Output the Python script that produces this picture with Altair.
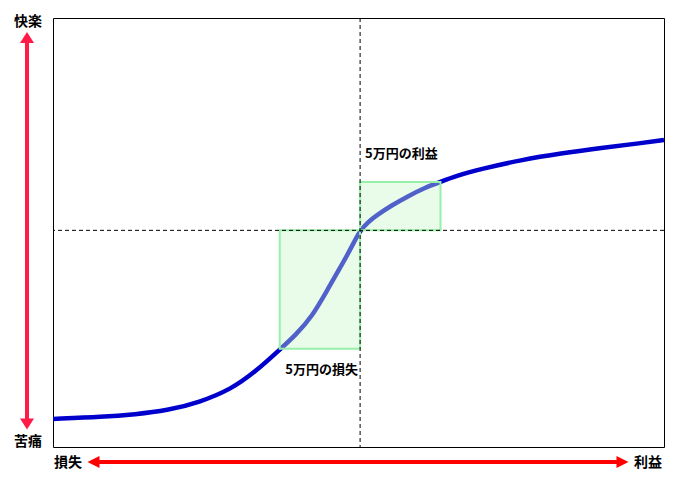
import altair as alt
import pandas as pd

# value function curve (x: 万円, y: 効用)
curve_x = [-19.1, -16, -14, -12, -10, -8, -6.5, -5, -4, -3, -2, -1, -0.5, 0,
           0.5, 1, 2, 3, 4, 5, 6, 7.5, 10, 12.5, 15, 17.5, 18.9]
curve_y = [-8.79, -8.70, -8.58, -8.40, -8.02, -7.40, -6.58, -5.56, -4.87, -4.04,
           -2.73, -1.43, -0.73, 0.0,
           0.39, 0.69, 1.18, 1.60, 1.98, 2.26, 2.54, 2.86, 3.28, 3.59, 3.84, 4.07, 4.21]

# 5万円 boxes
box_x = [-5, 0]
box_x2 = [0, 5]
box_y = [-5.52, 0]
box_y2 = [0, 2.26]

gain_label = "5万円の利益"
loss_label = "5万円の損失"
axis_labels = ["快楽", "苦痛", "損失", "利益"]

FONT = "Noto Sans CJK JP"

curve_df = pd.DataFrame({"x": curve_x, "y": curve_y})
box_df = pd.DataFrame({"x": box_x, "x2": box_x2, "y": box_y, "y2": box_y2})

xs = alt.Scale(domain=[-19.1, 18.9], nice=False, zero=False)
ys = alt.Scale(domain=[-10.1, 9.9], nice=False, zero=False)

curve = alt.Chart(curve_df).mark_line(
    color="#0000cc", strokeWidth=4.5, interpolate="basis", clip=True
).encode(
    x=alt.X("x:Q", scale=xs, axis=None),
    y=alt.Y("y:Q", scale=ys, axis=None),
)

boxes = alt.Chart(box_df).mark_rect(
    fill="#c8f5c8", fillOpacity=0.4, stroke="#96f0a8", strokeWidth=2
).encode(
    x=alt.X("x:Q", scale=xs, axis=None),
    x2="x2:Q",
    y=alt.Y("y:Q", scale=ys, axis=None),
    y2="y2:Q",
)

vrule = alt.Chart(pd.DataFrame({"x": [0]})).mark_rule(
    color="#000000", strokeWidth=1, strokeDash=[4, 3]
).encode(x=alt.X("x:Q", scale=xs, axis=None))

hrule = alt.Chart(pd.DataFrame({"y": [0]})).mark_rule(
    color="#000000", strokeWidth=1, strokeDash=[4, 3]
).encode(y=alt.Y("y:Q", scale=ys, axis=None))

gain_text = alt.Chart(pd.DataFrame({"t": [gain_label]})).mark_text(
    font=FONT, fontSize=13, fontWeight="bold", align="left", baseline="middle", color="#000"
).encode(text="t:N", x=alt.value(312), y=alt.value(136))

loss_text = alt.Chart(pd.DataFrame({"t": [loss_label]})).mark_text(
    font=FONT, fontSize=13, fontWeight="bold", align="right", baseline="middle", color="#000"
).encode(text="t:N", x=alt.value(305), y=alt.value(352))

# arrows (outside plot area)
v_shaft = alt.Chart(pd.DataFrame({"a": [0]})).mark_rule(
    color="#ff1a48", strokeWidth=4, clip=False
).encode(x=alt.value(-26), y=alt.value(24), y2=alt.value(403))

v_head_up = alt.Chart(pd.DataFrame({"a": [0]})).mark_point(
    shape="M -1 0.8 L 1 0.8 L 0 -0.8 Z", filled=True, fill="#ff1a48",
    opacity=1, strokeWidth=0, size=196, clip=False
).encode(x=alt.value(-26), y=alt.value(19.5))

v_head_down = alt.Chart(pd.DataFrame({"a": [0]})).mark_point(
    shape="M -1 -0.8 L 1 -0.8 L 0 0.8 Z", filled=True, fill="#ff1a48",
    opacity=1, strokeWidth=0, size=196, clip=False
).encode(x=alt.value(-26), y=alt.value(406))

h_shaft = alt.Chart(pd.DataFrame({"a": [0]})).mark_rule(
    color="#ff0000", strokeWidth=4, clip=False
).encode(x=alt.value(46), x2=alt.value(565), y=alt.value(444))

h_head_left = alt.Chart(pd.DataFrame({"a": [0]})).mark_point(
    shape="M -1 0 L 1 -1 L 1 1 Z", filled=True, fill="#ff0000",
    opacity=1, strokeWidth=0, size=144, clip=False
).encode(x=alt.value(40.5), y=alt.value(444))

h_head_right = alt.Chart(pd.DataFrame({"a": [0]})).mark_point(
    shape="M 1 0 L -1 -1 L -1 1 Z", filled=True, fill="#ff0000",
    opacity=1, strokeWidth=0, size=144, clip=False
).encode(x=alt.value(569.5), y=alt.value(444))

label_pos = [(-25, 4), (-25, 424), (15, 445), (595, 445)]
label_layers = []
for lab, (px, py) in zip(axis_labels, label_pos):
    label_layers.append(
        alt.Chart(pd.DataFrame({"t": [lab]})).mark_text(
            font=FONT, fontSize=14, fontWeight="bold", align="center",
            baseline="middle", color="#000", clip=False
        ).encode(text="t:N", x=alt.value(px), y=alt.value(py))
    )

chart = alt.layer(
    curve, boxes, vrule, hrule, gain_text, loss_text,
    v_shaft, v_head_up, v_head_down, h_shaft, h_head_left, h_head_right,
    *label_layers
).properties(
    width=611, height=429,
    autosize=alt.AutoSizeParams(type="none"),
    padding={"left": 45, "top": 10, "right": 28, "bottom": 28},
).configure_view(
    stroke="#000000", strokeWidth=1
)

chart.save("out.html", embed_options={"renderer": "svg", "actions": False})
